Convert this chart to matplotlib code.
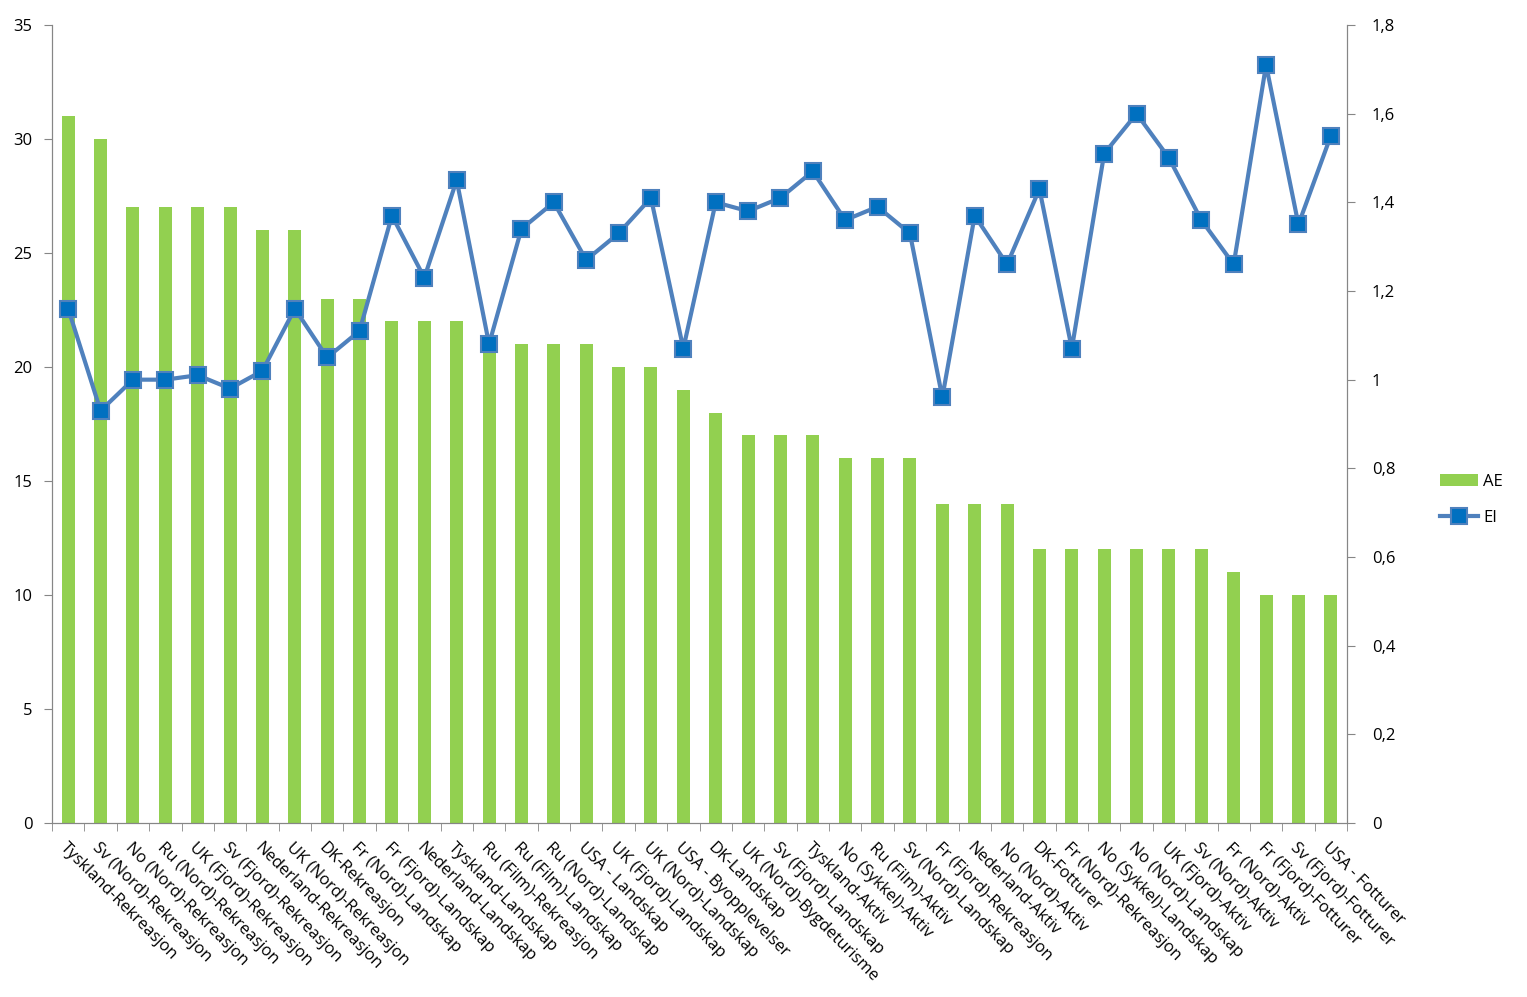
import numpy as np
import matplotlib.pyplot as plt
from matplotlib.ticker import FixedLocator, FuncFormatter

plt.rcParams['font.family'] = ['Open Sans', 'DejaVu Sans']

categories = [
    'Tyskland-Rekreasjon', 'Sv (Nord)-Rekreasjon', 'No (Nord)-Rekreasjon',
    'Ru (Nord)-Rekreasjon', 'UK (Fjord)-Rekreasjon', 'Sv (Fjord)-Rekreasjon',
    'Nederland-Rekreasjon', 'UK (Nord)-Rekreasjon', 'DK-Rekreasjon',
    'Fr (Nord)-Landskap', 'Fr (Fjord)-Landskap', 'Nederland-Landskap',
    'Tyskland-Landskap', 'Ru (Film)-Rekreasjon', 'Ru (Film)-Landskap',
    'Ru (Nord)-Landskap', 'USA - Landskap', 'UK (Fjord)-Landskap',
    'UK (Nord)-Landskap', 'USA - Byopplevelser', 'DK-Landskap',
    'UK (Nord)-Bygdeturisme', 'Sv (Fjord)-Landskap', 'Tyskland-Aktiv',
    'No (Sykkel)-Aktiv', 'Ru (Film)-Aktiv', 'Sv (Nord)-Landskap',
    'Fr (Fjord)-Rekreasjon', 'Nederland-Aktiv', 'No (Nord)-Aktiv',
    'DK-Fotturer', 'Fr (Nord)-Rekreasjon', 'No (Sykkel)-Landskap',
    'No (Nord)-Landskap', 'UK (Fjord)-Aktiv', 'Sv (Nord)-Aktiv',
    'Fr (Nord)-Aktiv', 'Fr (Fjord)-Fotturer', 'Sv (Fjord)-Fotturer',
    'USA - Fotturer',
]
ae = [31, 30, 27, 27, 27, 27, 26, 26, 23, 23, 22, 22, 22, 21, 21, 21, 21, 20, 20, 19,
      18, 17, 17, 17, 16, 16, 16, 14, 14, 14, 12, 12, 12, 12, 12, 12, 11, 10, 10, 10]
ei = [1.16, 0.93, 1.00, 1.00, 1.01, 0.98, 1.02, 1.16, 1.05, 1.11, 1.37, 1.23, 1.45, 1.08,
      1.34, 1.40, 1.27, 1.33, 1.41, 1.07, 1.40, 1.38, 1.41, 1.47, 1.36, 1.39, 1.33, 0.96,
      1.37, 1.26, 1.43, 1.07, 1.51, 1.60, 1.50, 1.36, 1.26, 1.71, 1.35, 1.55]

x = np.arange(len(categories))
grey = '#868686'

fig = plt.figure(figsize=(15.27, 9.97), dpi=100)
ax = fig.add_axes([52 / 1527, 174 / 997, 1295 / 1527, 798 / 997])
ax2 = ax.twinx()

bars = ax.bar(x, ae, width=0.4, color='#92D050', label='AE', zorder=2)
line, = ax2.plot(x, ei, color='#4F81BD', lw=3, marker='s', markersize=11,
                 markerfacecolor='#0070C0', markeredgecolor='#4F81BD',
                 markeredgewidth=1.5, label='EI', zorder=3)

ax.set_xlim(-0.5, len(categories) - 0.5)
ax.set_ylim(0, 35)
ax.set_yticks(range(0, 36, 5))
ax2.set_ylim(0, 1.8)
ax2.set_yticks(np.arange(0, 1.81, 0.2))
ax2.yaxis.set_major_formatter(FuncFormatter(
    lambda v, p: ('%g' % round(v, 1)).replace('.', ',')))

ax.set_xticks(x)
ax.set_xticklabels(categories, rotation=-45, ha='left', rotation_mode='anchor')
ax.tick_params(axis='x', which='major', length=0, pad=12)
ax.xaxis.set_minor_locator(FixedLocator(np.arange(-0.5, len(categories), 1)))
ax.tick_params(axis='x', which='minor', length=6, color=grey)

for a in (ax, ax2):
    a.spines['top'].set_visible(False)
    for s in ('left', 'right', 'bottom'):
        a.spines[s].set_color(grey)
    a.tick_params(axis='y', length=6, color=grey, labelsize=12)
ax.tick_params(axis='x', labelsize=12)
ax.tick_params(axis='y', pad=8)
ax2.tick_params(axis='y', pad=12)

fig.legend([bars, line], ['AE', 'EI'], loc='center left',
           bbox_to_anchor=(1425 / 1527, 1 - 500 / 997), frameon=False,
           fontsize=12, handlelength=2.3, labelspacing=1.2, handletextpad=0.3)

fig.savefig('out.png', dpi=100)
